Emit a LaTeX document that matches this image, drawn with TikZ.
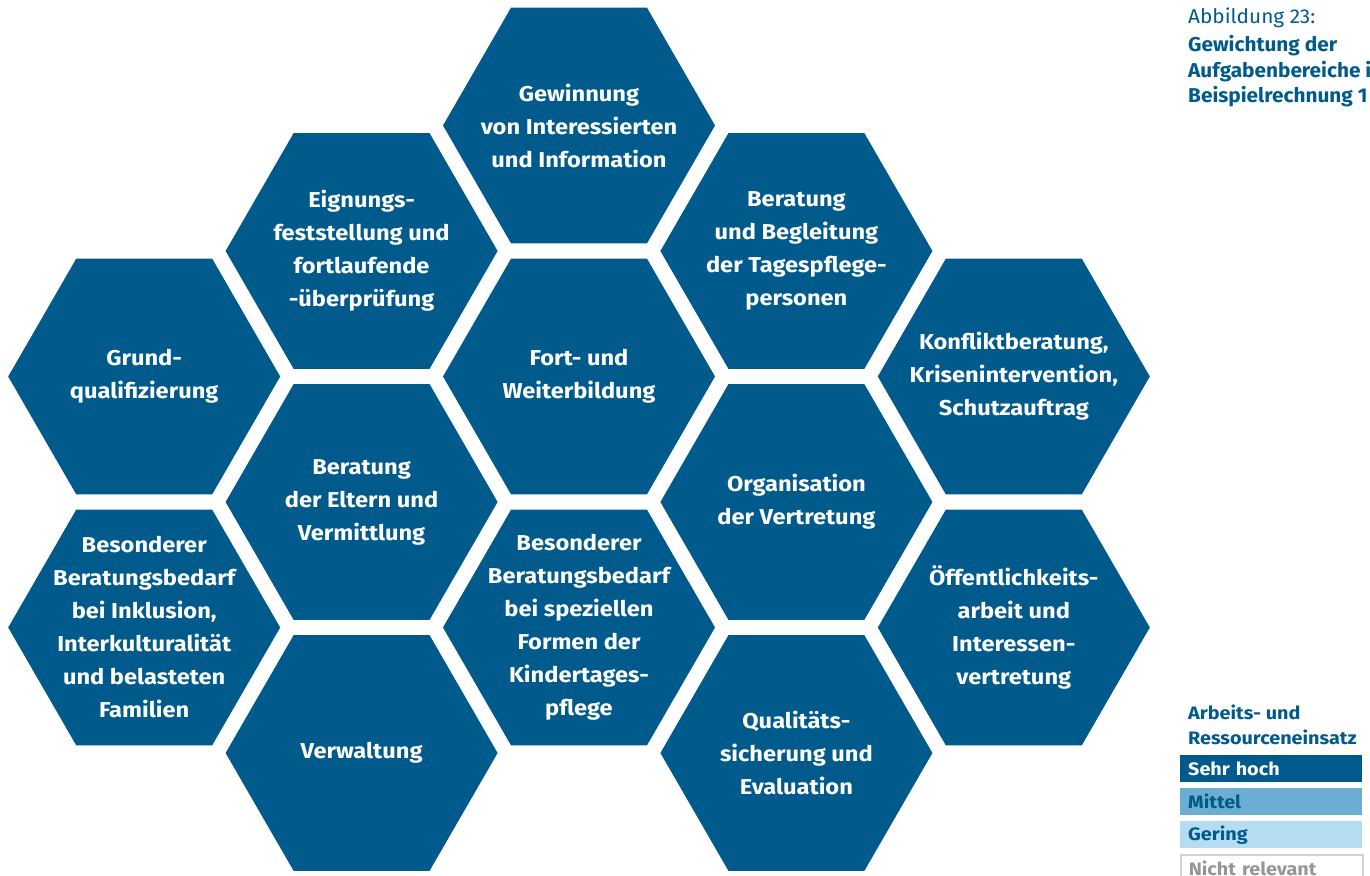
\documentclass[tikz,border=0pt]{standalone}
\usepackage{fontspec}
\setmainfont{Fira Sans}
\newfontfamily\widefont{Fira Sans}[FakeStretch=1.1]
\newfontfamily\titlefont{Fira Sans}[FakeStretch=1.04]
\definecolor{hexblue}{RGB}{0,90,140}
\definecolor{midblue}{RGB}{108,174,210}
\definecolor{lightblue}{RGB}{181,220,240}
\definecolor{greytext}{RGB}{150,150,150}
\definecolor{greyline}{RGB}{212,212,206}
\newcommand\myhex[4]{%
  \fill[hexfill] (#2,#3) ++(136,0) -- ++(-68,117.8) -- ++(-136,0) -- ++(-68,-117.8) -- ++(68,-117.8) -- ++(136,0) -- cycle;
  \node[hextext] (#1) at (#2,#3) {#4};}
\begin{document}
\begin{tikzpicture}[x=1pt,y=-1pt,
  hexfill/.style={fill=hexblue},
  hextext/.style={text=white, font=\widefont\fontsize{21.5}{33}\selectfont\bfseries, align=center, inner sep=0pt},
  titlereg/.style={text=hexblue, font=\titlefont\fontsize{20}{25.5}\selectfont, inner sep=0pt, anchor=base west},
  titlebold/.style={text=hexblue, font=\titlefont\fontsize{20}{25.5}\selectfont\bfseries, align=left, inner sep=0pt, anchor=north west},
  leghead/.style={text=hexblue, font=\widefont\fontsize{18}{25}\selectfont\bfseries, align=left, inner sep=0pt, anchor=north west},
  legbox/.style={anchor=north west, minimum width=182pt, minimum height=27pt, text width=166pt, inner xsep=8pt, inner ysep=0pt, align=left, font=\widefont\fontsize{18}{22}\selectfont\bfseries}
]
\useasboundingbox (0,0) rectangle (1370,875);
\clip (0,0) rectangle (1370,875);

% column 1
\myhex{grund}{144.2}{376.5}{Grund-\\qualifizierung}
\myhex{inkl}{144.2}{627.5}{Besonderer\\Beratungsbedarf\\bei Inklusion,\\Interkulturalität\\und belasteten\\Familien}
% column 2
\myhex{eign}{361.6}{251}{Eignungs-\\feststellung und\\fortlaufende\\-überprüfung}
\myhex{eltern}{361.6}{502}{Beratung\\der Eltern und\\Vermittlung}
\myhex{verw}{361.6}{753}{Verwaltung}
% column 3
\myhex{gew}{579}{125.5}{Gewinnung\\von Interessierten\\und Information}
\myhex{fort}{579}{376.5}{Fort- und\\Weiterbildung}
\myhex{spez}{579}{627.5}{Besonderer\\Beratungsbedarf\\bei speziellen\\Formen der\\Kindertages-\\pflege}
% column 4
\myhex{begl}{796.4}{251}{Beratung\\und Begleitung\\der Tagespflege-\\personen}
\myhex{vertr}{796.4}{502}{Organisation\\der Vertretung}
\myhex{qual}{796.4}{753}{Qualitäts-\\sicherung und\\Evaluation}
% column 5
\myhex{konf}{1013.8}{376.5}{Konfliktberatung,\\Krisenintervention,\\Schutzauftrag}
\myhex{oeff}{1013.8}{627.5}{Öffentlichkeits-\\arbeit und\\Interessen-\\vertretung}

% title
\node[titlereg] (abb) at (1188,24) {Abbildung 23:};
\node[titlebold] (titel) at (1188,35.5) {Gewichtung der\\Aufgabenbereiche i\\Beispielrechnung 1};

% legend
\node[leghead] (lhead) at (1188,705) {Arbeits- und\\Ressourceneinsatz};
\node[legbox, fill=hexblue, text=white] (lsehr) at (1180,755) {Sehr hoch};
\node[legbox, fill=midblue, text=hexblue] (lmittel) at (1180,788) {Mittel};
\node[legbox, fill=lightblue, text=hexblue] (lgering) at (1180,821) {Gering};
\node[legbox, draw=greyline, line width=1.5pt, fill=white, text=greytext] (lnicht) at (1180,854) {Nicht relevant};
\end{tikzpicture}
\end{document}
